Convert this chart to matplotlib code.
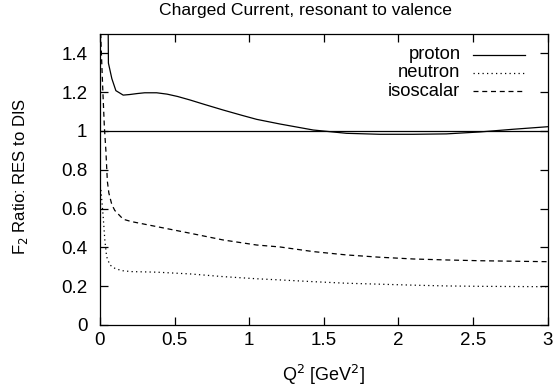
import numpy as np
import matplotlib
matplotlib.use('Agg')
import matplotlib.pyplot as plt

plt.rcParams['font.family'] = ['Liberation Sans', 'DejaVu Sans']

# Curves (Q^2 in GeV^2, F2 ratio)
proton_q2 = [0.054, 0.057, 0.08, 0.107, 0.156, 0.2, 0.25, 0.3, 0.38, 0.45, 0.52,
             0.603, 0.7, 0.826, 0.95, 1.05, 1.206, 1.429, 1.652, 1.875, 2.098,
             2.32, 2.545, 2.77, 3.0]
proton_r = [1.70, 1.35, 1.27, 1.208, 1.185, 1.188, 1.193, 1.197, 1.197, 1.190,
            1.178, 1.160, 1.137, 1.108, 1.081, 1.060, 1.036, 1.005, 0.988, 0.983,
            0.983, 0.985, 0.995, 1.009, 1.022]

neutron_q2 = [0.007, 0.022, 0.033, 0.045, 0.067, 0.1, 0.145, 0.21, 0.38, 0.603,
              0.826, 1.05, 1.206, 1.43, 1.65, 1.875, 2.1, 2.32, 2.545, 3.0]
neutron_r = [0.696, 0.558, 0.438, 0.352, 0.309, 0.292, 0.280, 0.275, 0.272, 0.263,
             0.249, 0.238, 0.232, 0.223, 0.215, 0.210, 0.205, 0.201, 0.199, 0.197]

iso_q2 = [0.003, 0.01, 0.02, 0.03, 0.04, 0.05, 0.06, 0.08, 0.1, 0.156, 0.21,
          0.38, 0.603, 0.826, 1.05, 1.206, 1.43, 1.65, 1.875, 2.1, 2.32, 2.545, 3.0]
iso_r = [1.55, 1.40, 1.20, 1.02, 0.90, 0.74, 0.68, 0.62, 0.59, 0.545, 0.533,
         0.507, 0.473, 0.438, 0.412, 0.402, 0.378, 0.361, 0.349, 0.340, 0.335, 0.331, 0.326]

series = [('proton', proton_q2, proton_r, '-'),
          ('neutron', neutron_q2, neutron_r, (0, (1, 2.6))),
          ('isoscalar', iso_q2, iso_r, (0, (4, 3)))]

fig = plt.figure(figsize=(5.55, 3.91), dpi=100)
ax = fig.add_axes([0.180, 0.169, 0.807, 0.744])

ax.axhline(1.0, color='k', lw=0.9)
for name, q2, r, ls in series:
    ax.plot(q2, r, color='k', lw=0.9, linestyle=ls)

ax.set_xlim(0, 3)
ax.set_ylim(0, 1.5)
ax.set_xticks(np.arange(0, 3.01, 0.5))
ax.set_xticklabels(['0', '0.5', '1', '1.5', '2', '2.5', '3'])
ax.set_yticks(np.arange(0, 1.41, 0.2))
ax.set_yticklabels(['0', '0.2', '0.4', '0.6', '0.8', '1', '1.2', '1.4'])
ax.tick_params(direction='in', length=5.5, width=0.9, top=True, right=True,
               labelsize=13.5)
ax.tick_params(axis='y', pad=9)
ax.tick_params(axis='x', pad=5)
for s in ax.spines.values():
    s.set_linewidth(0.9)

ax.set_xlabel('Q$^2$ [GeV$^2$]', fontsize=13)
ax.xaxis.set_label_coords(0.5, -0.172)
ax.xaxis.label.set_va('center')
ax.set_ylabel('F$_2$ Ratio: RES to DIS', fontsize=12)
ax.yaxis.set_label_coords(-0.177, 0.512)
ax.yaxis.label.set_va('center')
ax.set_title('Charged Current, resonant to valence', fontsize=12.6, x=0.458,
             y=1.082, va='center', pad=0)

# gnuplot-style key: label right-aligned, sample to the right
for i, (name, q2, r, ls) in enumerate(series):
    yk = 0.929 - i * 0.063
    ax.text(0.805, yk, name, transform=ax.transAxes, ha='right', va='center',
            fontsize=13.2)
    ax.plot([0.833, 0.949], [yk, yk], transform=ax.transAxes, color='k',
            lw=0.9, linestyle=ls)

fig.savefig('out.png', dpi=100)
